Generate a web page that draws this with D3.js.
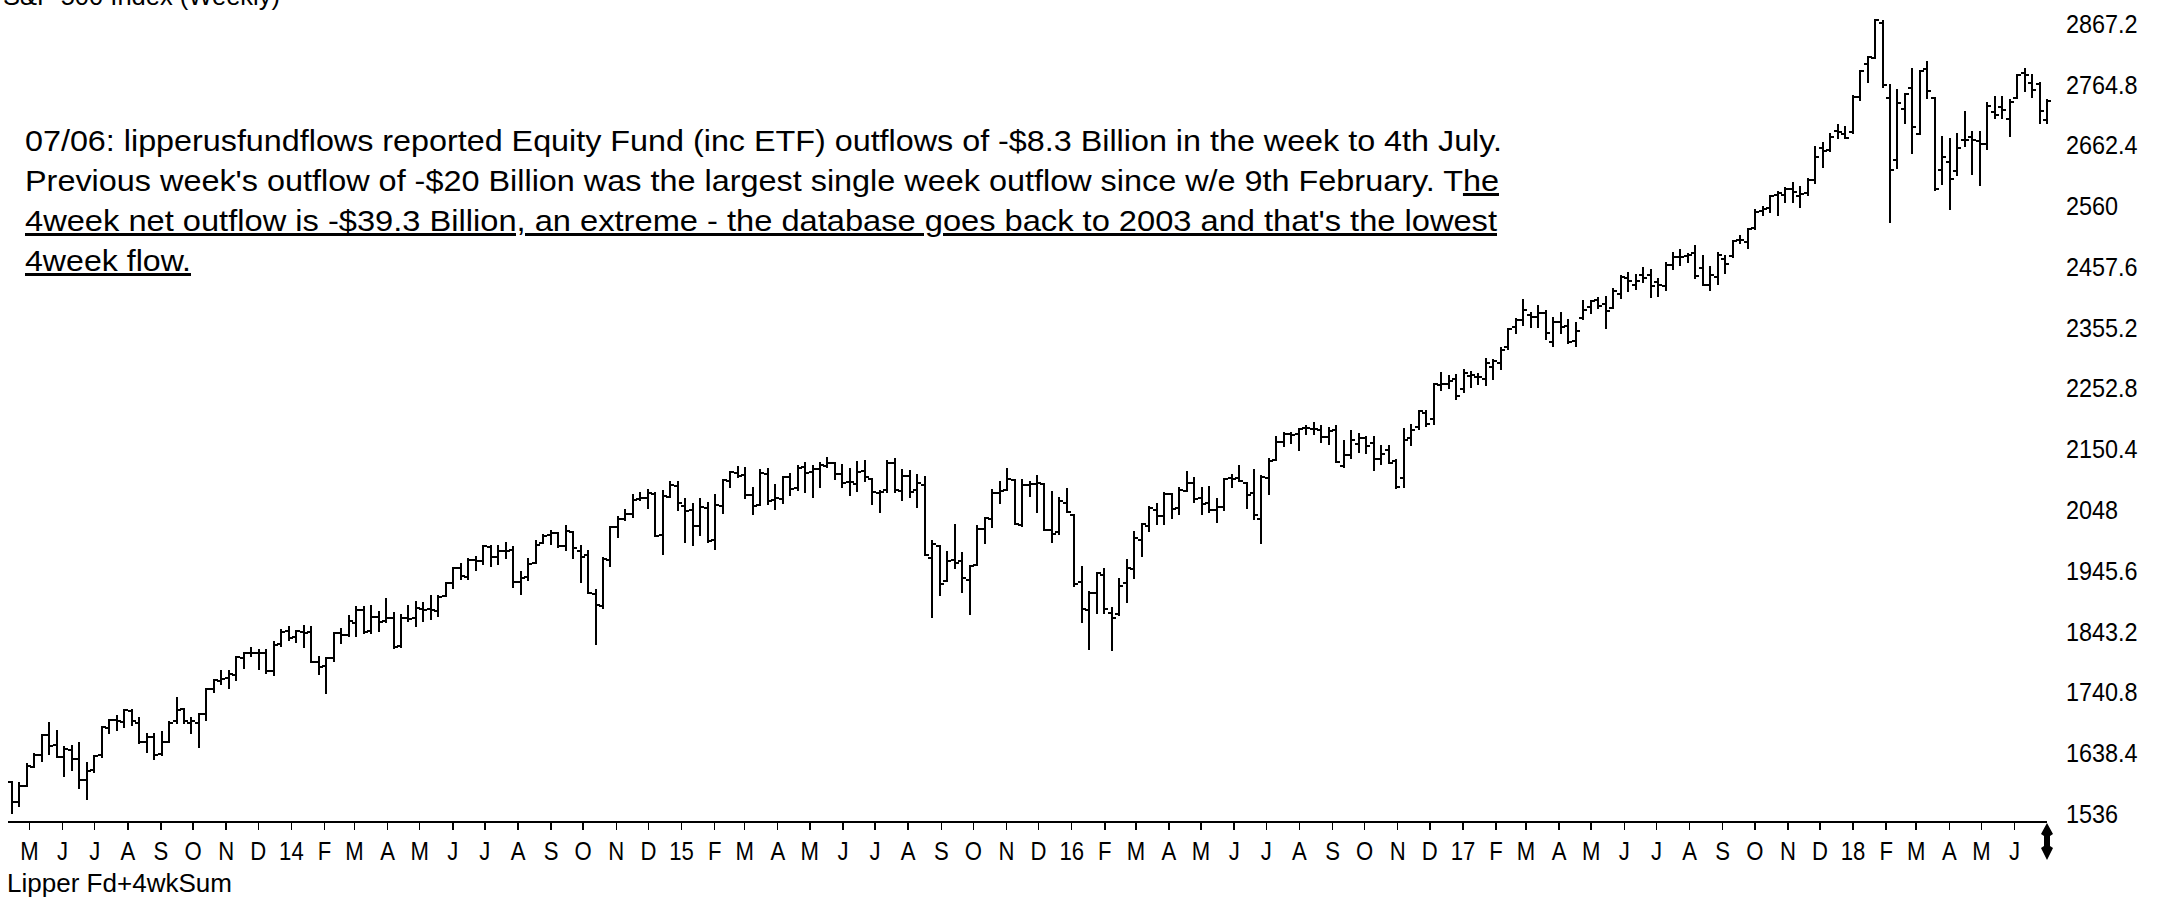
<!DOCTYPE html>
<html><head><meta charset="utf-8">
<script src="https://cdn.jsdelivr.net/npm/d3@7"></script>
<style>html,body{margin:0;padding:0;background:#fff;overflow:hidden}</style>
</head><body><svg id="c" width="2173" height="901"></svg>
<script>
// ---- data (S&P 500 weekly bars, week starting Monday) ----
const firstWeek = "2013-04-15";
const opens = [1588,1555,1582,1614,1633,1667,1650,1631,1643,1627,
1592,1609,1634,1680,1692,1690,1708,1688,1655,1664,
1635,1656,1691,1711,1688,1687,1703,1745,1759,1763,
1769,1798,1806,1806,1806,1776,1820,1842,1832,1841,
1841,1791,1783,1797,1839,1836,1857,1878,1842,1867,
1859,1864,1818,1865,1864,1880,1880,1876,1902,1924,
1948,1934,1962,1960,1985,1968,1977,1979,1926,1933,
1958,1991,2004,2008,1986,2009,1978,1970,1905,1885,
1962,2018,2032,2039,2065,2066,2074,2005,2069,2087,
2054,2046,2020,2050,1996,2053,2096,2109,2105,2072,
2055,2108,2064,2065,2102,2084,2119,2110,2115,2121,
2125,2108,2093,2091,2112,2098,2075,2080,2126,2078,
2104,2080,2089,1965,1986,1927,1963,1960,1929,1954,
2015,2031,2075,2081,2097,2022,2089,2090,2090,2013,
2010,2058,2038,1926,1878,1906,1937,1873,1871,1924,
1947,1996,2019,2047,2037,2073,2050,2078,2092,2067,
2058,2047,2052,2100,2100,2092,2075,2031,2101,2131,
2162,2175,2174,2184,2183,2182,2170,2181,2120,2140,
2158,2168,2160,2133,2148,2129,2100,2168,2186,2210,
2200,2258,2259,2267,2251,2273,2270,2267,2287,2294,
2321,2355,2366,2375,2371,2379,2329,2363,2357,2332,
2370,2388,2400,2393,2387,2411,2437,2425,2442,2443,
2431,2424,2459,2473,2475,2479,2454,2425,2439,2470,
2474,2502,2499,2521,2551,2555,2578,2577,2587,2576,
2580,2602,2657,2653,2686,2680,2684,2743,2798,2809,
2867,2741,2636,2722,2757,2681,2790,2741,2619,2633,
2617,2670,2675,2669,2663,2718,2725,2705,2741,2783,
2766,2765,2704];
const highs = [1589,1585.8,1618.5,1635,1667.5,1687.2,1674.2,1646.7,1648.7,1654.2,
1620,1631.9,1680.2,1693.1,1698.8,1709.7,1709.2,1696.8,1669.5,1669.5,
1672.4,1689,1729.9,1711.9,1696.6,1703.4,1745.3,1759.8,1775.2,1774.5,
1798.2,1806,1813.6,1810,1811.5,1823.8,1844.9,1849.4,1843.2,1850.8,
1849.3,1798.8,1798,1840,1846.1,1867.9,1883.6,1882.4,1884,1875.2,
1897.3,1872.5,1869.6,1884.9,1891.3,1889.1,1902.2,1901.3,1924,1949.4,
1955.6,1963.9,1968.2,1985.6,1985.6,1985.3,1991.4,1984.9,1942.9,1964,
1994.8,2005,2011.2,2008,2019.3,2009.3,1985.2,1977.8,1912,1965.3,
2018.2,2034.3,2046.2,2071.5,2075.8,2079.5,2075.8,2077.9,2093.6,2093.6,
2064.4,2056.9,2064.6,2057.6,2072.4,2097,2110.6,2119.6,2117.5,2083.5,
2114,2114.9,2088.4,2102.6,2107.7,2120.5,2125.9,2120.9,2126.1,2134.7,
2126.2,2121.9,2115,2126.7,2129.9,2098.6,2078.3,2129.2,2132.8,2114.2,
2112.7,2105.4,2102.5,1993.5,1986.7,1975,2020.9,1974.8,1951.4,2020.1,
2033.5,2079.7,2094.3,2116.5,2097,2097.1,2094.1,2104.3,2090.4,2076.7,
2067.6,2081.6,2038.2,1950.3,1908.9,1940.2,1947.2,1881.6,1930.7,1963,
2009.1,2022.4,2052.4,2056.6,2075.1,2073.6,2083.3,2111.1,2099.9,2083.4,
2084.9,2064.6,2099.1,2105.3,2120.6,2092.6,2113.3,2104.3,2131.7,2169.1,
2175.6,2177.1,2182.9,2188.5,2193.4,2187.9,2184.9,2187.9,2163.3,2180,
2175.3,2169.6,2169.6,2153.7,2154.8,2131.3,2182.3,2189.9,2213.4,2214.1,
2259.5,2277.5,2272.6,2273.8,2282.1,2279.3,2276.1,2301,2299,2319.2,
2351.3,2367.8,2401,2378.8,2390,2382,2370.3,2378.4,2366.4,2361.4,
2398.2,2399.3,2403.9,2405.8,2418.7,2440.2,2446.2,2442.6,2453.8,2450.4,
2436.4,2463.5,2479.1,2484,2478.5,2490.9,2474.9,2456.1,2480.4,2474.5,
2500.2,2508.9,2519.4,2552.5,2557.7,2575.4,2582.9,2588.4,2597,2590.1,
2604.2,2657.7,2665.2,2679.6,2695,2692.1,2743.5,2786.2,2810.3,2872.9,
2870.6,2763.4,2754.4,2747.8,2789.2,2786.6,2801.9,2741.4,2674.8,2672.1,
2680.3,2717.5,2683.6,2682.9,2732.9,2742.2,2742.9,2736.9,2779.9,2789.1,
2779.4,2765.8,2737.8];
const lows = [1536,1548,1581,1614,1623,1635.5,1630.7,1598.2,1608,1577.7,
1560.3,1604.6,1631,1670,1676,1681,1684.9,1654,1639.4,1627.5,
1633.4,1656,1688,1687.1,1670.4,1646.5,1692.1,1740.5,1752.7,1746.2,
1760.6,1780,1800,1779,1772.3,1768,1818,1827.7,1823.7,1815.5,
1790.3,1770.5,1737.9,1791.8,1822,1834.4,1834.4,1839.5,1839.1,1842.1,
1858,1814.4,1816,1859,1850.6,1859.8,1862.4,1868.1,1902,1915.9,
1929.6,1930,1944.7,1955.6,1952.9,1955,1965,1916.4,1904.8,1928.3,
1958,1990.5,1990.1,1983.5,1978.5,1965.1,1926,1906,1820.7,1882,
1951.4,2001,2030.2,2034,2064,2049.6,2002.3,1972.6,2069,2046,
1992.4,1988.1,2004.5,1993,1980.9,2041.9,2085.4,2103,2067.3,2039.7,
2055,2056,2048.4,2057.6,2072.3,2079.6,2077,2067.9,2085.4,2118.9,
2099.2,2085.7,2072.1,2079.1,2095.2,2056.2,2044,2077.5,2077.6,2063.5,
2067.9,2052.1,1970.9,1867,1903.1,1927,1948.3,1908.8,1871.9,1954,
1990.7,2018.2,2058.8,2080.3,2022.6,2019.4,2070.3,2042.4,2012.4,1993.3,
2005.9,2043.6,1918.5,1857.8,1812.3,1872.7,1872.6,1810.1,1869,1891,
1931.8,1969.3,2011.9,2022.5,2023.5,2033.8,2039.7,2078,2060.2,2039.5,
2043.1,2025.9,2047.3,2085,2095.3,2050.4,2032.1,1991.7,2074,2131,
2154.8,2159.7,2147.6,2174,2174,2160.4,2157.1,2127.8,2119.1,2133.9,
2145,2142.6,2114.7,2124.4,2125.6,2083.8,2084.5,2156.1,2182.4,2187.4,
2191.5,2248.4,2252.5,2233.6,2245.1,2254.3,2258.4,2257,2267.2,2284.6,
2317.4,2345.6,2358.5,2354.5,2354.9,2335.3,2322.3,2344.5,2328.1,2322.3,
2369,2378,2387.2,2352.7,2386.5,2403.6,2415.7,2419.4,2430,2405.7,
2407.7,2417.4,2452.3,2459.9,2464.5,2437.8,2425,2417.4,2428.2,2446.6,
2473,2496.7,2488,2520.4,2543.9,2547.9,2544,2566.3,2566.3,2557.5,
2577,2597.5,2624.8,2652,2673,2673.6,2682.4,2737.6,2768.6,2808,
2758.7,2532.7,2622.5,2699.5,2647.3,2681,2741.4,2585.9,2596.1,2553.8,
2610.8,2660.1,2612.7,2594.6,2655.2,2707.4,2707.4,2676.8,2740.5,2752.9,
2742.3,2698.7,2699];
const closes = [1555.3,1582.2,1614.4,1633.7,1667.5,1649.6,1630.7,1643.4,1626.7,1592.4,
1606.3,1631.9,1680.2,1692.1,1691.7,1709.7,1691.4,1655.8,1663.5,1633,
1655.2,1688,1709.9,1691.8,1690.5,1703.2,1744.5,1759.8,1761.6,1770.6,
1798.2,1804.8,1805.8,1805.1,1775.3,1818.3,1841.4,1831.4,1842.4,1838.7,
1790.3,1782.6,1797,1838.6,1836.3,1859.5,1878,1841.1,1866.5,1857.6,
1865.1,1815.7,1864.9,1863.4,1881.1,1878.5,1877.9,1900.5,1923.6,1949.4,
1936.2,1962.9,1961,1985.4,1967.6,1978.2,1978.3,1925.2,1931.6,1955.1,
1988.4,2003.4,2007.7,1985.5,2010.4,1982.9,1967.9,1906.1,1886.8,1964.6,
2018.1,2031.9,2039.8,2063.5,2067.6,2075.4,2002.3,2070.7,2088.8,2058.2,
2044.8,2019.4,2051.8,1995,2055.5,2097,2110.3,2104.5,2071.3,2053.4,
2108.1,2061,2067,2102.1,2081.2,2117.7,2108.3,2116.1,2122.7,2126.1,
2107.4,2092.8,2094.1,2110,2101.5,2076.8,2076.6,2126.6,2079.7,2103.8,
2077.6,2091.5,1970.9,1988.9,1921.2,1961.1,1958,1931.3,1951.4,2014.9,
2033.1,2075.2,2079.4,2099.2,2023,2089.2,2090.1,2091.7,2012.4,2005.6,
2061,2043.9,1922,1880.3,1906.9,1940.2,1880,1864.8,1917.8,1948,
2000,2022.2,2049.6,2035.9,2072.8,2047.6,2080.7,2091.6,2065.3,2057.1,
2046.6,2052.3,2099.1,2099.1,2096.1,2071.2,2037.4,2103,2129.9,2161.7,
2175,2173.6,2182.9,2184.1,2183.9,2169,2180,2127.8,2139.2,2164.7,
2168.3,2153.7,2133,2141.2,2126.4,2085.2,2164.5,2181.9,2213.4,2192,
2259.5,2258.1,2263.8,2238.8,2277,2274.6,2271.3,2294.7,2297.4,2316.1,
2351.2,2367.3,2383.1,2372.6,2378.3,2344,2362.7,2355.5,2329,2348.7,
2384.2,2399.3,2390.9,2381.7,2415.8,2439.1,2431.8,2433.2,2438.3,2423.4,
2425.2,2459.3,2472.5,2472.1,2476.8,2441.3,2425.6,2443,2476.6,2461.4,
2500.2,2502.2,2519.4,2549.3,2553.2,2575.2,2581.1,2587.8,2582.3,2578.9,
2602.4,2642.2,2651.5,2675.8,2683.3,2673.6,2743.2,2786.2,2810.3,2872.9,
2762.1,2619.6,2732.2,2747.3,2691.3,2786.6,2752,2588.3,2640.9,2604.5,
2656.3,2670.1,2669.9,2663.4,2727.7,2713,2721.3,2734.6,2779,2779.7,
2754.9,2718.4,2736.6];
const yTickValues = [1536,1638.4,1740.8,1843.2,1945.6,2048,2150.4,2252.8,2355.2,2457.6,2560,2662.4,2764.8,2867.2];
const monthLetters = ["J","F","M","A","M","J","J","A","S","O","N","D"];
const titleText = "S&P 500 Index (Weekly)";
const noteLine1 = "07/06: lipperusfundflows reported Equity Fund (inc ETF) outflows of -$8.3 Billion in the week to 4th July.";
const noteLine2a = "Previous week's outflow of -$20 Billion was the largest single week outflow since w/e 9th February. T";
const noteLine2b = "he";
const noteLine3 = "4week net outflow is -$39.3 Billion, an extreme - the database goes back to 2003 and that's the lowest";
const noteLine4 = "4week flow.";
const footerText = "Lipper Fd+4wkSum";

// ---- drawing ----
const FONT = "'Liberation Sans Narrow', 'Arial Narrow', 'Liberation Sans', Arial, sans-serif";
const FONT_AX = "'Liberation Sans', Arial, sans-serif";
const svg = d3.select("#c");
svg.append("rect").attr("width",2173).attr("height",901).attr("fill","#fff");

const parse = d3.timeParse("%Y-%m-%d");
const start = parse(firstWeek);
const bars = closes.map((c, i) => ({d: d3.timeDay.offset(start, 7 * i), o: opens[i], h: highs[i], l: lows[i], c}));

const x = d3.scaleTime().domain([new Date(2013, 4, 1), new Date(2018, 5, 1)]).range([29, 2014]);
const y = d3.scaleLinear().domain([1536, 2867.2]).range([813, 23]);

// OHLC bars
const gb = svg.append("g").attr("stroke", "#000").attr("stroke-width", 2).attr("shape-rendering", "crispEdges");
gb.selectAll("g").data(bars).join("g").each(function (b) {
  const g = d3.select(this);
  const cx = Math.round(x(b.d));
  g.append("line").attr("x1", cx).attr("x2", cx).attr("y1", Math.round(y(b.h)) - 1).attr("y2", Math.round(y(b.l)) + 1);
  g.append("line").attr("x1", cx - 4).attr("x2", cx).attr("y1", Math.round(y(b.o))).attr("y2", Math.round(y(b.o)));
  g.append("line").attr("x1", cx).attr("x2", cx + 4).attr("y1", Math.round(y(b.c))).attr("y2", Math.round(y(b.c)));
});

// bottom axis
const lastX = Math.round(x(bars[bars.length - 1].d));
svg.append("line").attr("x1", 8).attr("x2", lastX).attr("y1", 822).attr("y2", 822)
  .attr("stroke", "#000").attr("stroke-width", 2).attr("shape-rendering", "crispEdges");
const months = d3.timeMonth.range(new Date(2013, 4, 1), new Date(2018, 6, 1));
const xAxis = d3.axisBottom(x).tickValues(months).tickSize(8)
  .tickFormat(d => d.getMonth() === 0 ? d3.timeFormat("%y")(d) : monthLetters[d.getMonth()]);
const gx = svg.append("g").attr("transform", "translate(0,822)").call(xAxis);
gx.select(".domain").remove();
gx.selectAll(".tick line").attr("stroke", "#000").attr("stroke-width", 1.5).attr("shape-rendering", "crispEdges");
gx.selectAll(".tick text").attr("y", 38).attr("dy", null).attr("fill", "#000")
  .attr("font-family", FONT_AX).attr("font-size", 26)
  .each(function () {
    const t = d3.select(this);
    const w = this.getComputedTextLength();
    t.attr("textLength", w * 0.85).attr("lengthAdjust", "spacingAndGlyphs");
  });

// current-bar marker
svg.append("path").attr("fill", "#000")
  .attr("d", `M${lastX},823 L${lastX + 6},834 L${lastX + 3},836 L${lastX + 3},846 L${lastX + 6},848 L${lastX},860 L${lastX - 6},848 L${lastX - 3},846 L${lastX - 3},836 L${lastX - 6},834 Z`);

// right axis labels
const yAxis = d3.axisRight(y).tickValues(yTickValues).tickSize(0).tickPadding(0)
  .tickFormat(v => String(+v.toFixed(1)));
const gy = svg.append("g").attr("transform", "translate(2066,0)").call(yAxis);
gy.select(".domain").remove();
gy.selectAll(".tick text").attr("fill", "#000").attr("font-family", FONT_AX).attr("font-size", 26).attr("dy", "0.36em")
  .each(function () {
    const w = this.getComputedTextLength();
    d3.select(this).attr("textLength", w * 0.9).attr("lengthAdjust", "spacingAndGlyphs");
  });

// title (cut at top, as in the source)
svg.append("text").attr("x", 3).attr("y", 5).attr("font-family", FONT).attr("font-size", 26)
  .attr("textLength", 277).attr("lengthAdjust", "spacingAndGlyphs").attr("fill", "#000").text(titleText);

// annotation
const note = svg.append("g").attr("font-family", FONT).attr("font-size", 30).attr("fill", "#000");
note.append("text").attr("x", 25).attr("y", 151).attr("textLength", 1477).attr("lengthAdjust", "spacingAndGlyphs").text(noteLine1);
const t2 = note.append("text").attr("x", 25).attr("y", 191).attr("textLength", 1474).attr("lengthAdjust", "spacingAndGlyphs");
t2.append("tspan").text(noteLine2a);
t2.append("tspan").attr("text-decoration", "underline").text(noteLine2b);
note.append("text").attr("x", 25).attr("y", 231).attr("textLength", 1472).attr("lengthAdjust", "spacingAndGlyphs")
  .attr("text-decoration", "underline").text(noteLine3);
note.append("text").attr("x", 25).attr("y", 271).attr("textLength", 166).attr("lengthAdjust", "spacingAndGlyphs")
  .attr("text-decoration", "underline").text(noteLine4);

// footer
svg.append("text").attr("x", 7).attr("y", 892).attr("font-family", FONT_AX).attr("font-size", 25)
  .attr("textLength", 225).attr("lengthAdjust", "spacingAndGlyphs").attr("fill", "#000").text(footerText);
</script></body></html>
